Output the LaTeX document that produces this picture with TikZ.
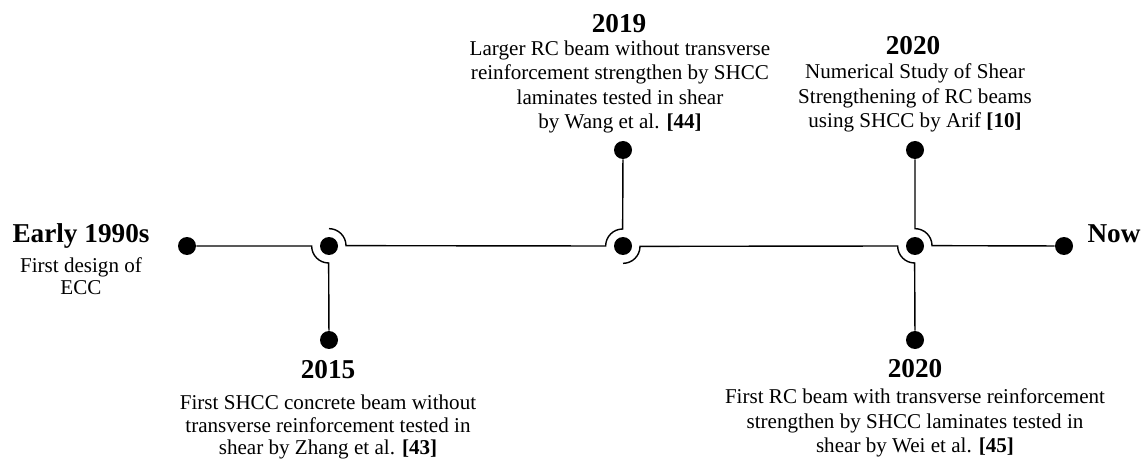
\documentclass[tikz,border=0pt]{standalone}
\usepackage{fontspec}
\setmainfont{Liberation Serif}
\usepackage{tikz}
\tikzset{
nodo/.style={circle,inner sep=0pt,minimum size=0.68cm},
punto/.style={circle,fill,inner sep=0pt,minimum size=0.36cm},
linea/.style={line width=0.8pt},
anno/.style={anchor=base,inner sep=0pt,font=\bfseries\fontsize{15.5}{18}\selectfont},
testo/.style={align=center,inner sep=0pt,font=\fontsize{12}{14}\selectfont}}

\begin{document}
\begin{tikzpicture}[x=0.02cm,y=0.02cm]

\useasboundingbox (0,0) rectangle (1145,460);

\node[punto] (s) at (187,214) {};
\node[nodo] (j15) at (329,214) {};
\node[nodo] (j19) at (623,214) {};
\node[nodo] (j20) at (915,214) {};
\node[punto] (now) at (1064,214) {};
\node[punto] (b15) at (329,120) {};
\node[punto] (t19) at (623,310) {};
\node[punto] (t20) at (915,310) {};
\node[punto] (b20) at (915,120) {};

\fill (j15) circle (0.18cm);
\fill (j19) circle (0.18cm);
\fill (j20) circle (0.18cm);

\draw[linea] (s) -- (j15.west) arc[start angle=180,end angle=270,radius=0.34cm] -- (b15);
\draw[linea] (j15.north) arc[start angle=90,end angle=0,radius=0.34cm]
	-- (j19.west) arc[start angle=180,end angle=90,radius=0.34cm] -- (t19);
\draw[linea] (j19.south) arc[start angle=270,end angle=360,radius=0.34cm]
	-- (j20.west) arc[start angle=180,end angle=270,radius=0.34cm] -- (b20);
\draw[linea] (t20) -- (j20.north) arc[start angle=90,end angle=0,radius=0.34cm] -- (now);

\node[anno] (h90) at (81,217) {Early 1990s};
\node[testo,font=\fontsize{12}{12.8}\selectfont] (d90) at (81,184) {First design of\\ECC};
\node[anno] (hnow) at (1114,217) {Now};

\node[anno] (h15) at (328,82) {2015};
\node[testo,font=\fontsize{12}{13}\selectfont] (d15) at (328,33) {First SHCC concrete beam without\\transverse reinforcement tested in\\shear by Zhang et al. \textbf{[43]}};

\node[anno] (h19) at (619,427) {2019};
\node[testo] (d19) at (620,373) {Larger RC beam without transverse\\reinforcement strengthen by SHCC\\laminates tested in shear\\by Wang et al. \textbf{[44]}};

\node[anno] (h20a) at (913,405) {2020};
\node[testo] (d20a) at (915,362) {Numerical Study of Shear\\Strengthening of RC beams\\using SHCC by Arif \textbf{[10]}};

\node[anno] (h20b) at (915,83) {2020};
\node[testo] (d20b) at (915,37) {First RC beam with transverse reinforcement\\strengthen by SHCC laminates tested in\\shear by Wei et al. \textbf{[45]}};
\end{tikzpicture}
\end{document}
